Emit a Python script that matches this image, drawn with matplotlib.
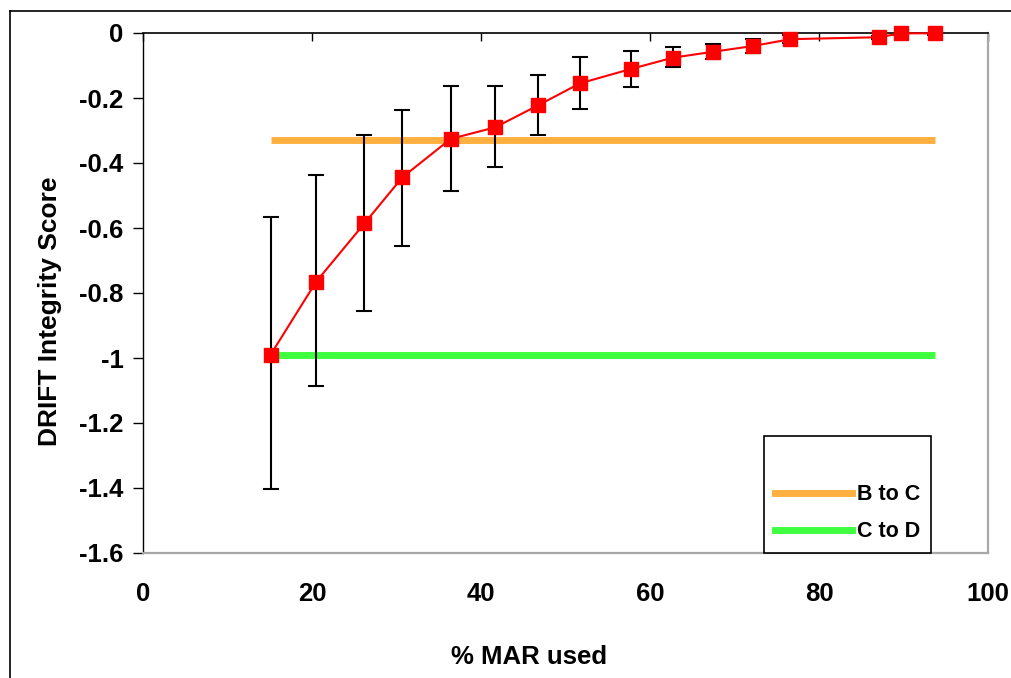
import matplotlib
matplotlib.use("Agg")
import matplotlib.pyplot as plt
from matplotlib.lines import Line2D

plt.rcParams['font.family'] = ['Liberation Sans', 'DejaVu Sans']
plt.rcParams['font.weight'] = 'bold'

# ---- data ----
mar_used = [15.1, 20.5, 26.2, 30.7, 36.4, 41.7, 46.8, 51.7, 57.7, 62.7, 67.4, 72.2, 76.6, 87.1, 89.7, 93.7]
score = [-0.99, -0.765, -0.586, -0.444, -0.326, -0.290, -0.222, -0.155, -0.111, -0.076, -0.058, -0.040, -0.019, -0.013, -0.001, -0.001]
err_up = [0.425, 0.328, 0.272, 0.207, 0.163, 0.127, 0.093, 0.080, 0.056, 0.033, 0.025, 0.021, 0.012, 0.005, 0.004, 0.004]
err_down = [0.413, 0.320, 0.269, 0.210, 0.161, 0.123, 0.093, 0.080, 0.056, 0.030, 0.023, 0.022, 0.012, 0.005, 0.004, 0.004]
b_to_c = [-0.33] * len(mar_used)
c_to_d = [-0.99] * len(mar_used)
x_ticks = [0, 20, 40, 60, 80, 100]
y_ticks = [0, -0.2, -0.4, -0.6, -0.8, -1.0, -1.2, -1.4, -1.6]
y_tick_labels = ['0', '-0.2', '-0.4', '-0.6', '-0.8', '-1', '-1.2', '-1.4', '-1.6']
legend_labels = ['', 'B to C', 'C to D']

fig = plt.figure(figsize=(10.12, 6.78), dpi=100)
ax = fig.add_axes([143/1012, 1 - 553/678, (988-143)/1012, (553-33)/678])

orange = '#FFB040'
green = '#40FF40'

ax.plot(mar_used, b_to_c, color=orange, lw=5, solid_capstyle='butt', zorder=1.5)
ax.plot(mar_used, c_to_d, color=green, lw=5, solid_capstyle='butt', zorder=1.5)
ax.errorbar(mar_used, score, yerr=[err_down, err_up], fmt='none', ecolor='black',
            elinewidth=1.5, capsize=5.5, capthick=1.5, zorder=2)
ax.plot(mar_used, score, color='red', lw=1.5, marker='s', markersize=9.5,
        markerfacecolor='red', markeredgecolor='red', zorder=3, clip_on=False)

ax.set_xlim(0, 100)
ax.set_ylim(-1.6, 0)
ax.set_xticks(x_ticks)
ax.set_xticklabels([str(v) for v in x_ticks])
ax.set_yticks(y_ticks)
ax.set_yticklabels(y_tick_labels)

ax.tick_params(axis='x', top=True, bottom=False, labeltop=False, labelbottom=True,
               direction='in', length=6, width=1, pad=21, labelsize=18.5)
ax.tick_params(axis='y', left=True, direction='out', length=7, width=1, pad=7, labelsize=18.5)
for lab in ax.get_xticklabels() + ax.get_yticklabels():
    lab.set_fontweight('bold')

ax.spines['left'].set_color('black')
ax.spines['left'].set_linewidth(1)
ax.spines['top'].set_color('black')
ax.spines['top'].set_linewidth(1.2)
ax.spines['right'].set_color('#A8A8A8')
ax.spines['right'].set_linewidth(1.6)
ax.spines['bottom'].set_color('#A8A8A8')
ax.spines['bottom'].set_linewidth(1.6)

fig.text(529/1012, 1 - 657/678, '% MAR used', ha='center', va='center',
         fontsize=18.5, fontweight='bold')
fig.text(50/1012, 1 - 311/678, 'DRIFT Integrity Score', ha='center', va='center',
         rotation=90, fontsize=19, fontweight='bold')

handles = [Line2D([], [], color='none'),
           Line2D([], [], color=orange, lw=5),
           Line2D([], [], color=green, lw=5)]
leg = ax.legend(handles, legend_labels, loc='lower left', bbox_to_anchor=(0.735, 0.0),
                fontsize=15.5, frameon=True, fancybox=False, framealpha=1,
                edgecolor='black', handlelength=3.6, handletextpad=0.2,
                labelspacing=0.75, borderpad=0.5, borderaxespad=0)
leg.get_frame().set_linewidth(1.2)
for t in leg.get_texts():
    t.set_fontweight('bold')
leg.set_zorder(5)

# outer frame
fig.add_artist(Line2D([10/1012, 1.0], [1 - 11/678, 1 - 11/678], color='black', lw=1.2,
                      transform=fig.transFigure))
fig.add_artist(Line2D([10/1012, 10/1012], [0, 1 - 11/678], color='black', lw=1.2,
                      transform=fig.transFigure))

fig.savefig('out.png', dpi=100)
